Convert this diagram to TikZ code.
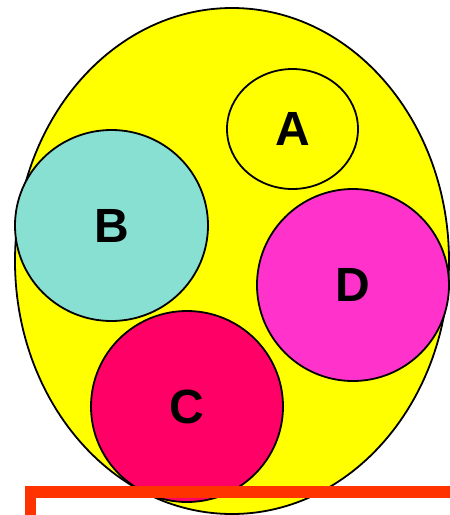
\documentclass[tikz,border=0pt]{standalone}
\usepackage{fontspec}
\setmainfont{Liberation Sans}
\usetikzlibrary{shapes.geometric}
\definecolor{yel}{HTML}{FFFF00}
\definecolor{tealB}{HTML}{88E0D2}
\definecolor{magD}{HTML}{FF33CC}
\definecolor{redC}{HTML}{FF0066}
\definecolor{frameR}{HTML}{FF3300}
\begin{document}
\begin{tikzpicture}[x=1pt,y=-1pt,
  blob/.style={ellipse, draw=black, line width=1.8pt, inner sep=0pt,
    font=\fontsize{48}{48}\selectfont\bfseries}]
\useasboundingbox (0,0) rectangle (450,515);
\clip (0,0) rectangle (450,515);
\fill[white] (0,0) rectangle (450,515);
\node[blob, fill=yel, minimum width=434pt, minimum height=506pt] (U) at (232,261) {};
\node[blob, fill=yel, minimum width=131pt, minimum height=120pt] (A) at (292.5,129) {A};
\node[blob, fill=tealB, minimum width=193pt, minimum height=191pt] (B) at (111.5,225.5) {B};
\node[blob, fill=magD, minimum width=192pt, minimum height=192pt] (D) at (353,285) {D};
\node[blob, fill=redC, minimum width=192pt, minimum height=191pt] (C) at (187,406.5) {C};
\draw[frameR, line width=11.5pt] (30.5,492) rectangle (480,560);
\end{tikzpicture}
\end{document}
